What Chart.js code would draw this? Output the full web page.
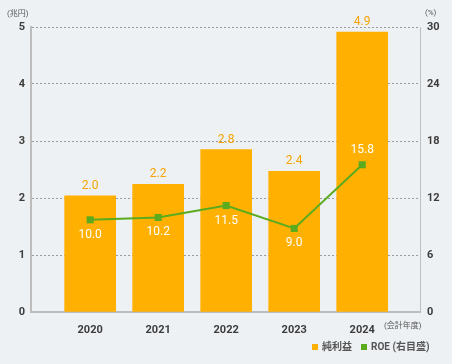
<!DOCTYPE html>
<html>
<head>
<meta charset="utf-8">
<script src="https://cdn.jsdelivr.net/npm/chart.js@4"></script>
<style>
  html, body { margin: 0; padding: 0; background: #eef1f4; }
  #wrap { width: 452px; height: 364px; }
</style>
</head>
<body>
<div id="wrap"><canvas id="chart" width="452" height="364"></canvas></div>
<script>
// données
const years = ['2020', '2021', '2022', '2023', '2024'];
const netIncome = [2.04, 2.24, 2.85, 2.47, 4.91];
const netIncomeLabels = ['2.0', '2.2', '2.8', '2.4', '4.9'];
const roe = [9.7, 9.95, 11.2, 8.8, 15.5];
const roeLabels = ['10.0', '10.2', '11.5', '9.0', '15.8'];
const leftTicks = [0, 1, 2, 3, 4, 5];
const rightTicks = [0, 6, 12, 18, 24, 30];

const ORANGE = '#ffb000';
const GREEN = '#5aab1e';
const FONT = 'Roboto, "Noto Sans CJK JP", sans-serif';

// étiquettes de valeurs, unités et légende
const extras = {
  id: 'extras',
  afterDatasetsDraw(chart) {
    const ctx = chart.ctx;
    ctx.save();
    ctx.textAlign = 'center';
    ctx.textBaseline = 'middle';
    ctx.font = '12px ' + FONT;

    const bars = chart.getDatasetMeta(1).data;
    ctx.fillStyle = '#f5a400';
    bars.forEach((b, i) => ctx.fillText(netIncomeLabels[i], b.x, b.y - 10));

    const pts = chart.getDatasetMeta(0).data;
    ctx.fillStyle = '#ffffff';
    pts.forEach((p, i) => {
      const dy = i === pts.length - 1 ? -15 : 15;
      ctx.fillText(roeLabels[i], p.x, p.y + dy);
    });
    ctx.restore();
  },
  afterDraw(chart) {
    const ctx = chart.ctx;
    ctx.save();
    ctx.fillStyle = '#555';
    ctx.font = '8px ' + FONT;
    ctx.textBaseline = 'middle';
    ctx.textAlign = 'left';
    ctx.fillText('(兆円)', 7, 14);
    ctx.fillText('(%)', 425, 13);
    ctx.fillText('(会計年度)', 384, 326);

    // légende
    ctx.font = 'bold 10px ' + FONT;
    let x = 312;
    const y = 347;
    [chart.data.datasets[1], chart.data.datasets[0]].forEach(ds => {
      ctx.fillStyle = ds.legendColor;
      ctx.fillRect(x, y - 3, 6, 6);
      x += 10;
      ctx.fillStyle = '#555';
      ctx.fillText(ds.label, x, y);
      x += ctx.measureText(ds.label).width + 9;
    });
    ctx.restore();
  }
};

new Chart(document.getElementById('chart'), {
  data: {
    datasets: [
      {
        type: 'line',
        label: 'ROE (右目盛)',
        legendColor: GREEN,
        data: roe.map((v, i) => ({ x: i, y: v })),
        yAxisID: 'y2',
        borderColor: GREEN,
        backgroundColor: GREEN,
        borderWidth: 2,
        pointStyle: 'rect',
        pointRadius: 5,
        pointBorderWidth: 0,
        order: 0
      },
      {
        type: 'bar',
        label: '純利益',
        legendColor: ORANGE,
        data: netIncome.map((v, i) => ({ x: i, y: v })),
        yAxisID: 'y',
        backgroundColor: ORANGE,
        barThickness: 51,
        order: 1
      }
    ]
  },
  options: {
    responsive: false,
    animation: false,
    layout: { padding: { top: 27, left: 0, right: 0, bottom: 0 } },
    plugins: { legend: { display: false }, tooltip: { enabled: false } },
    scales: {
      x: {
        type: 'linear',
        offset: false,
        min: -0.87,
        max: 4.85,
        afterBuildTicks: s => { s.ticks = years.map((_, i) => ({ value: i })); },
        afterFit: s => { s.height = 52; },
        grid: { display: false, offset: false },
        border: { display: true, color: '#bdbdbd', width: 2 },
        ticks: {
          autoSkip: false,
          maxRotation: 0,
          padding: 4,
          color: '#3c3c3c',
          font: { family: FONT, size: 11, weight: 'bold' },
          callback: v => years[v] ?? ''
        }
      },
      y: {
        position: 'left',
        min: 0,
        max: 5,
        afterBuildTicks: s => { s.ticks = leftTicks.map(v => ({ value: v })); },
        afterFit: s => { s.width = 31; },
        grid: { color: '#9a9a9a', lineWidth: 1, drawTicks: false },
        border: { display: true, color: '#bdbdbd', width: 2, dash: [2, 2] },
        ticks: {
          padding: 6,
          color: '#3c3c3c',
          font: { family: FONT, size: 11, weight: 'bold' }
        }
      },
      y2: {
        position: 'right',
        min: 0,
        max: 30,
        afterBuildTicks: s => { s.ticks = rightTicks.map(v => ({ value: v })); },
        afterFit: s => { s.width = 32; },
        grid: { drawOnChartArea: false, drawTicks: false },
        border: { display: true, color: '#bdbdbd', width: 1 },
        ticks: {
          padding: 7,
          color: '#3c3c3c',
          font: { family: FONT, size: 11, weight: 'bold' }
        }
      }
    }
  },
  plugins: [extras]
});
</script>
</body>
</html>
